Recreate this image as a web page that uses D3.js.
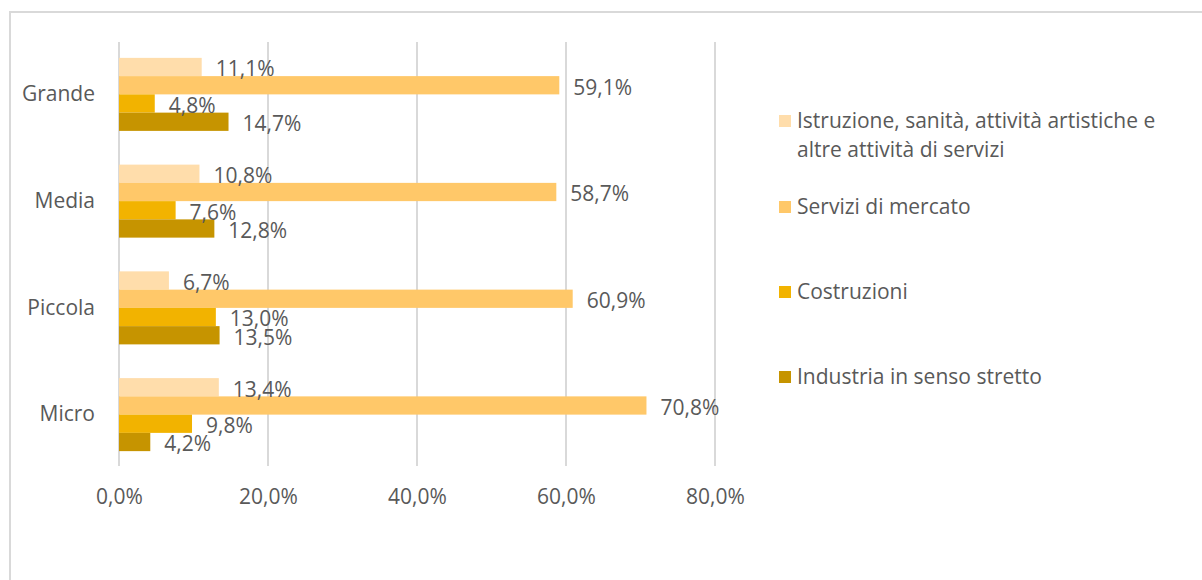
<!DOCTYPE html>
<html>
<head>
	<meta charset="utf-8">
	<script src="https://cdnjs.cloudflare.com/ajax/libs/d3/7.8.5/d3.min.js"></script>
	<style>
	body { margin: 0; background: #fff; }
	text { font-family: "Open Sans", "Noto Sans", sans-serif; fill: #595959; }
	.grid line { stroke: #d9d9d9; stroke-width: 2px; }
	</style>
</head>
<body>
	<svg width="1202" height="580"></svg>
	<script>
	// categories (top to bottom)
	let sizes = ["Grande", "Media", "Piccola", "Micro"];
	// series, in legend order
	let series = [
		"Istruzione, sanità, attività artistiche e altre attività di servizi",
		"Servizi di mercato",
		"Costruzioni",
		"Industria in senso stretto"
	];
	let colors = ["#ffddab", "#ffc869", "#f2b300", "#c69400"];
	// values per size, in series order
	let istruzione = [11.1, 10.8, 6.7, 13.4];
	let servizi = [59.1, 58.7, 60.9, 70.8];
	let costruzioni = [4.8, 7.6, 13.0, 9.8];
	let industria = [14.7, 12.8, 13.5, 4.2];
	let ticks = [0, 20, 40, 60, 80];

	let values = [istruzione, servizi, costruzioni, industria];
	let fmt = function(v) { return v.toFixed(1).replace(".", ",") + "%"; };

	let svg = d3.select("svg");

	//outer frame (top and left edges visible)
	svg.append("path")
		.attr("d", "M10,580V12H1202")
		.attr("fill", "none")
		.attr("stroke", "#d9d9d9")
		.attr("stroke-width", 2);

	//scales
	let x = d3.scaleLinear().domain([0, 80]).range([119, 715]);
	let y = d3.scaleBand().domain(sizes).range([41, 468]).paddingInner(0.316).paddingOuter(0.158);
	let ys = d3.scaleBand().domain(d3.range(series.length)).range([0, y.bandwidth()]);

	//gridlines
	svg.append("g")
		.attr("class", "grid")
		.selectAll("line")
		.data(ticks)
		.enter()
		.append("line")
		.attr("x1", function(d) { return x(d); })
		.attr("x2", function(d) { return x(d); })
		.attr("y1", 42)
		.attr("y2", 466);

	//x tick labels
	let xAxis = svg.append("g")
		.attr("transform", "translate(0,466)")
		.call(d3.axisBottom(x).tickValues(ticks).tickSize(0).tickPadding(23).tickFormat(fmt));
	xAxis.select(".domain").remove();
	xAxis.selectAll("text").style("font-size", "21px").attr("fill", "#595959");

	//y labels
	let yAxis = svg.append("g")
		.attr("transform", "translate(95,0)")
		.call(d3.axisLeft(y).tickSize(0).tickPadding(0));
	yAxis.select(".domain").remove();
	yAxis.selectAll("text").style("font-size", "21px").attr("fill", "#595959");

	//flatten to one row per bar
	let rows = [];
	sizes.forEach(function(s, i) {
		series.forEach(function(name, j) {
			rows.push({size: s, k: j, value: values[j][i]});
		});
	});

	//bars
	svg.append("g").selectAll("rect")
		.data(rows)
		.enter()
		.append("rect")
		.attr("x", x(0))
		.attr("y", function(d) { return y(d.size) + ys(d.k); })
		.attr("width", function(d) { return x(d.value) - x(0); })
		.attr("height", ys.bandwidth())
		.attr("fill", function(d) { return colors[d.k]; });

	//value labels on top of all bars
	svg.append("g").selectAll("text")
		.data(rows)
		.enter()
		.append("text")
		.attr("x", function(d) { return x(d.value) + 14; })
		.attr("y", function(d) { return y(d.size) + ys(d.k) + ys.bandwidth() / 2; })
		.attr("dy", "0.45em")
		.style("font-size", "21px")
		.text(function(d) { return fmt(d.value); });

	//legend
	let legendY = [121, 207, 292, 377];
	let legend = svg.append("g").selectAll("g")
		.data(series)
		.enter()
		.append("g")
		.attr("transform", function(d, i) { return "translate(779," + legendY[i] + ")"; });

	legend.append("rect")
		.attr("x", 0)
		.attr("y", -6)
		.attr("width", 12)
		.attr("height", 12)
		.attr("fill", function(d, i) { return colors[i]; });

	legend.append("text")
		.attr("x", 18)
		.attr("dy", "0.35em")
		.style("font-size", "21px")
		.each(function(d, i) {
			let t = d3.select(this);
			if (i === 0) {
				t.append("tspan").attr("x", 18).text("Istruzione, sanità, attività artistiche e");
				t.append("tspan").attr("x", 18).attr("dy", 29).text("altre attività di servizi");
			} else {
				t.text(d);
			}
		});
	</script>
</body>
</html>
